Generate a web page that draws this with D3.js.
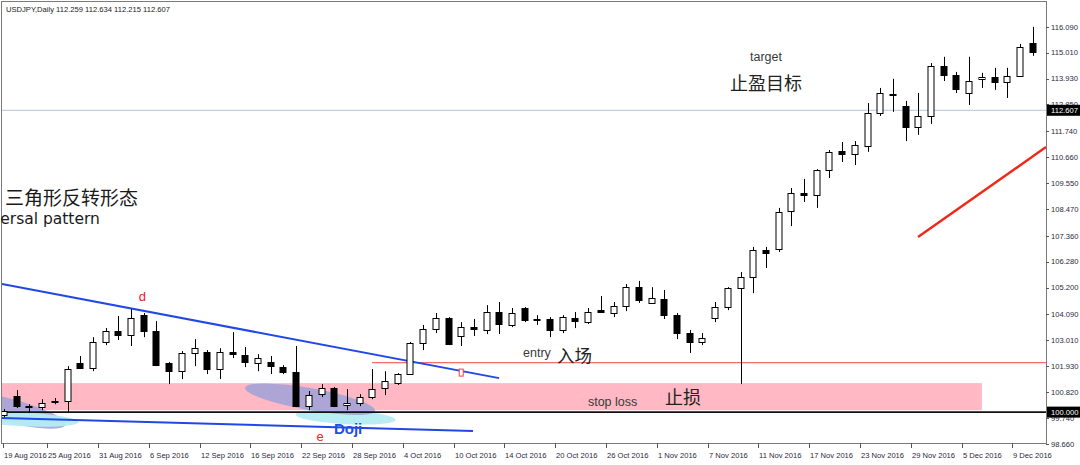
<!DOCTYPE html>
<html><head><meta charset="utf-8">
<script src="https://cdn.jsdelivr.net/npm/d3@7"></script>
<style>body{margin:0;background:#fff;overflow:hidden}svg{display:block}</style>
</head><body>
<svg id="c" width="1080" height="465"></svg>
<script>
// ---------- DATA ----------
const symbolTitle = "USDJPY,Daily";
const headerQuote = [112.259, 112.634, 112.215, 112.607];
const firstDate = "2016-08-19";
const openV  = [99.87,100.67,100.27,100.21,100.42,100.46,102.05,101.84,102.93,103.38,103.22,104.05,103.38,102.05,101.71,102.47,102.51,101.80,102.51,102.38,102.05,102.09,101.88,101.67,100.25,100.75,101.00,100.29,100.38,100.63,101.00,101.21,101.59,102.88,103.47,103.93,103.18,103.55,103.43,104.18,103.64,104.35,103.89,103.89,103.43,103.93,103.76,104.26,104.14,104.43,105.22,104.56,104.72,104.05,103.30,102.93,103.93,104.39,105.18,105.64,106.77,106.81,108.40,109.15,109.07,110.11,110.91,110.78,111.12,112.49,113.29,112.79,111.91,112.37,114.46,114.08,113.33,113.92,114.00,113.79,114.04,115.42];
const highV  = [100.13,100.92,100.33,100.54,100.59,101.92,102.34,103.13,103.51,104.01,104.30,104.14,103.80,102.09,102.55,103.05,102.59,102.67,103.34,102.72,102.42,102.34,101.96,102.76,100.88,101.17,101.05,100.96,100.75,101.80,101.71,101.63,102.93,103.64,104.14,103.97,103.76,103.89,104.47,104.60,104.35,104.39,104.05,103.97,104.05,104.18,104.35,104.85,104.60,105.35,105.48,105.22,105.10,104.14,103.43,103.30,104.60,105.22,105.85,106.90,106.90,108.53,109.36,109.74,110.15,110.95,111.28,111.32,112.91,113.54,113.92,113.00,113.33,114.58,114.84,114.21,114.84,114.17,114.38,114.38,115.38,116.09];
const lowV   = [99.79,100.17,99.96,100.08,100.33,100.00,101.80,101.71,102.80,103.01,102.76,103.13,101.92,101.17,101.38,101.92,101.59,101.38,102.26,101.88,101.71,101.59,101.59,100.23,100.08,100.63,100.21,100.08,100.25,100.54,100.71,101.13,101.55,102.59,103.30,102.80,102.76,103.18,103.26,103.26,103.55,103.76,103.64,103.13,103.30,103.51,103.68,104.14,103.97,104.22,104.56,104.52,103.89,103.05,102.47,102.80,103.76,104.26,101.17,104.97,106.02,106.69,107.77,108.78,108.53,109.78,110.45,110.32,110.87,112.37,112.54,111.32,111.58,112.04,113.83,113.33,112.83,113.54,113.46,113.12,114.00,114.88];
const closeV = [100.04,100.25,100.23,100.38,100.48,101.80,101.84,102.93,103.38,103.22,103.93,103.38,101.96,101.71,102.47,102.67,101.80,102.51,102.42,102.09,102.26,101.92,101.67,100.25,100.71,101.00,100.25,100.38,100.63,100.96,101.30,101.59,102.88,103.47,103.93,102.84,103.55,103.47,104.18,103.68,104.14,103.84,103.84,103.43,103.97,103.80,104.18,104.18,104.43,105.22,104.68,104.76,104.05,103.30,102.93,103.09,104.39,105.18,105.64,106.77,106.64,108.36,109.15,109.07,110.11,110.87,110.78,111.16,112.49,113.33,113.25,111.91,112.37,114.46,114.08,113.50,113.83,114.00,113.79,114.04,115.25,115.04];
const priceTicks = [98.660,99.740,100.820,101.930,103.010,104.090,105.200,106.280,107.360,108.470,109.550,110.660,111.740,112.850,113.930,115.010,116.090];
const timeTicks = ["19 Aug 2016","25 Aug 2016","31 Aug 2016","6 Sep 2016","12 Sep 2016","16 Sep 2016","22 Sep 2016","28 Sep 2016","4 Oct 2016","10 Oct 2016","14 Oct 2016","20 Oct 2016","26 Oct 2016","1 Nov 2016","7 Nov 2016","11 Nov 2016","17 Nov 2016","23 Nov 2016","29 Nov 2016","5 Dec 2016","9 Dec 2016"];
const bidPrice = 112.607;
const levelPrice = 100.000;
const entryPrice = 102.07;
const stopLo = 100.08, stopHi = 101.21;
// annotation geometry in (bar index, price)
const upperTrend = [[-0.16,105.35],[38.98,101.42]];
const lowerTrend = [[-0.16,99.75],[36.93,99.21]];
const targetLine = [[71.97,107.31],[82.05,111.07]];
const entryFrom = 28.98, stopTo = 77.0;

// ---------- SETUP ----------
const svg = d3.select("#c");
const L=2, R=1046, T=2, B=443;
const x = d3.scaleLinear().domain([-0.16, 82.05]).range([L, R]);
const y = d3.scaleLinear().domain([98.71, 117.13]).range([B, T]);
const parse = d3.timeParse("%Y-%m-%d"), fmt = d3.timeFormat("%-d %b %Y");
const dates = [];
for (let d = parse(firstDate); dates.length < openV.length; d = d3.timeDay.offset(d,1)) {
  const w = d.getDay(); if (w !== 0 && w !== 6) dates.push(d);
}
const bars = openV.map((o,i)=>({i, o, h:highV[i], l:lowV[i], c:closeV[i], date:dates[i]}));

svg.append("defs").append("clipPath").attr("id","clip").append("rect")
  .attr("x",L).attr("y",T).attr("width",R-L).attr("height",B-T);
const plot = svg.append("g").attr("clip-path","url(#clip)");

// stop-loss band
plot.append("rect").attr("x",x(-0.16)).attr("width",x(stopTo)-x(-0.16))
  .attr("y",y(stopHi)).attr("height",y(stopLo)-y(stopHi)).attr("fill","#ffb8c4");

// ellipses (Doji highlights)
const ells = [
  {i:0.1, p:100.10, rx:62, ry:12, rot:14, fill:"#a5a3d9", op:0.9},
  {i:1.3, p:99.71, rx:58, ry:7, rot:3, fill:"#b4ecf3", op:0.95},
  {i:26.9, p:99.79, rx:50, ry:7, rot:3, fill:"#b4ecf3", op:0.95},
  {i:24.1, p:100.54, rx:66, ry:11, rot:10, fill:"#a5a3d9", op:0.9}
];
plot.selectAll("ellipse").data(ells).join("ellipse")
  .attr("cx",0).attr("cy",0).attr("rx",d=>d.rx).attr("ry",d=>d.ry)
  .attr("transform",d=>`translate(${x(d.i)},${y(d.p)}) rotate(${d.rot})`)
  .attr("fill",d=>d.fill).attr("opacity",d=>d.op);

// horizontal lines
plot.append("line").attr("x1",L).attr("x2",R).attr("y1",y(bidPrice)).attr("y2",y(bidPrice))
  .attr("stroke","#b4c4dc").attr("stroke-width",1);
plot.append("line").attr("x1",L).attr("x2",R).attr("y1",y(levelPrice)).attr("y2",y(levelPrice))
  .attr("stroke","#111").attr("stroke-width",1.8);
plot.append("line").attr("x1",x(entryFrom)).attr("x2",R).attr("y1",y(entryPrice)).attr("y2",y(entryPrice))
  .attr("stroke","#f26a6a").attr("stroke-width",1.2);

// trend lines
const ln = d3.line().x(d=>x(d[0])).y(d=>y(d[1]));
plot.append("path").attr("d",ln(upperTrend)).attr("stroke","#2147e6").attr("stroke-width",2).attr("fill","none");
plot.append("path").attr("d",ln(lowerTrend)).attr("stroke","#2147e6").attr("stroke-width",2).attr("fill","none");
plot.append("path").attr("d",ln(targetLine)).attr("stroke","#f02818").attr("stroke-width",2.4).attr("fill","none");

// candles
const bw = 7;
const cg = plot.append("g");
cg.selectAll("line.w").data(bars).join("line").attr("class","w")
  .attr("x1",d=>Math.round(x(d.i))+0.5).attr("x2",d=>Math.round(x(d.i))+0.5)
  .attr("y1",d=>y(d.h)).attr("y2",d=>y(d.l)).attr("stroke","#000").attr("stroke-width",1);
cg.selectAll("rect.b").data(bars).join("rect").attr("class","b")
  .attr("x",d=>Math.round(x(d.i))-3)
  .attr("y",d=>Math.round(y(Math.max(d.o,d.c)))+0.5)
  .attr("width",bw-1)
  .attr("height",d=>Math.max(1, Math.round(y(Math.min(d.o,d.c)) - y(Math.max(d.o,d.c)))))
  .attr("fill",d=>d.c>=d.o?"#fff":"#000").attr("stroke","#000").attr("stroke-width",1);

// small red marker
plot.append("rect").attr("x",x(36)-2).attr("y",y(101.63)-4).attr("width",4).attr("height",7)
  .attr("fill","#fff").attr("stroke","#f04040").attr("stroke-width",1);

// ---------- FRAME & AXES ----------
svg.append("rect").attr("x",L-0.5).attr("y",T-0.5).attr("width",R-L+1).attr("height",B-T+1)
  .attr("fill","none").attr("stroke","#7a7a7a").attr("stroke-width",1);

const axisFont = "Liberation Sans, Arial, sans-serif";
const ya = svg.append("g");
priceTicks.forEach(v=>{
  ya.append("line").attr("x1",R).attr("x2",R+3).attr("y1",Math.round(y(v))+0.5).attr("y2",Math.round(y(v))+0.5).attr("stroke","#555");
  ya.append("text").attr("x",R+5).attr("y",y(v)).attr("dy","0.35em")
    .attr("font-family",axisFont).attr("font-size",7.6).attr("fill","#2a2a3a").text(v.toFixed(3));
});
[bidPrice, levelPrice].forEach(v=>{
  ya.append("rect").attr("x",R+1).attr("y",y(v)-5.5).attr("width",33).attr("height",11).attr("fill","#000");
  ya.append("text").attr("x",R+5).attr("y",y(v)).attr("dy","0.35em")
    .attr("font-family",axisFont).attr("font-size",7.6).attr("fill","#fff").text(v.toFixed(3));
});

const xa = svg.append("g");
const step = x(1)-x(0);
timeTicks.forEach(lbl=>{
  const idx = bars.findIndex(b=>fmt(b.date)===lbl);
  const px = Math.max(L+1, Math.round(x(idx) - step*0.6));
  xa.append("line").attr("x1",px+0.5).attr("x2",px+0.5).attr("y1",B).attr("y2",B+5).attr("stroke","#555");
  xa.append("text").attr("x",px+1).attr("y",B+15)
    .attr("font-family",axisFont).attr("font-size",7.6).attr("fill","#2a2a3a").text(lbl);
});

// header
svg.append("text").attr("x",6).attr("y",12).attr("font-family",axisFont).attr("font-size",7.6).attr("fill","#222")
  .text(symbolTitle + "  " + headerQuote.map(v=>v.toFixed(3)).join(" "));

// ---------- TEXT ANNOTATIONS ----------
const cjk = "Noto Sans CJK SC, sans-serif";
const notes = [
  {i:0.08, p:108.66, t:"三角形反转形态", f:cjk, s:19, c:"#1a1a1a"},
  {i:-0.3, p:107.84, t:"ersal pattern", f:"DejaVu Sans, sans-serif", s:15.5, c:"#1a1a1a"},
  {i:58.74, p:114.67, t:"target", f:axisFont, s:12.5, c:"#3a3a3a"},
  {i:57.17, p:113.46, t:"止盈目标", f:cjk, s:18, c:"#222"},
  {i:40.87, p:102.30, t:"entry", f:axisFont, s:12.5, c:"#3a3a3a"},
  {i:43.54, p:102.09, t:"入场", f:cjk, s:17.5, c:"#222"},
  {i:45.98, p:100.25, t:"stop loss", f:axisFont, s:12.5, c:"#3a3a3a"},
  {i:52.05, p:100.33, t:"止损", f:cjk, s:18, c:"#222"},
  {i:10.6, p:104.64, t:"d", f:axisFont, s:13, c:"#ee2020"},
  {i:24.6, p:98.79, t:"e", f:axisFont, s:13, c:"#ee2020"},
  {i:25.98, p:99.08, t:"Doji", f:axisFont, s:15, c:"#1f4fe6", w:"bold"}
];
svg.selectAll("text.note").data(notes).join("text").attr("class","note")
  .attr("x",d=>x(d.i)).attr("y",d=>y(d.p))
  .attr("font-family",d=>d.f).attr("font-size",d=>d.s).attr("fill",d=>d.c)
  .attr("font-weight",d=>d.w||"normal").text(d=>d.t);
</script>
</body></html>
